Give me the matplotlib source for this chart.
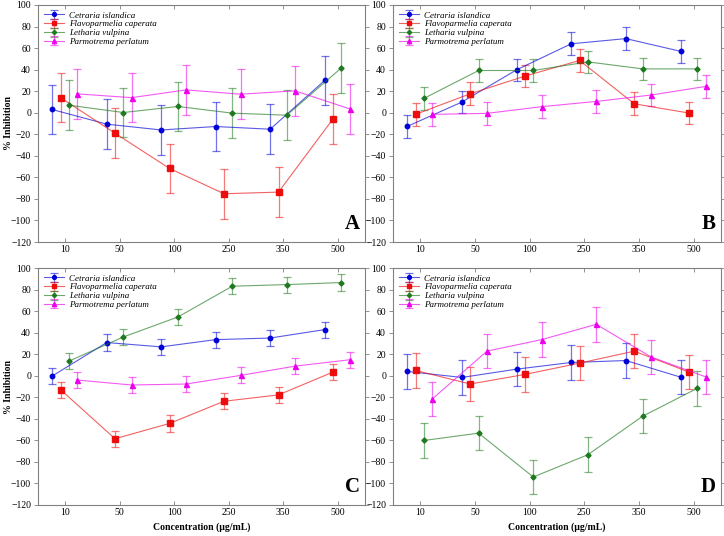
import matplotlib
matplotlib.use('Agg')
import matplotlib.pyplot as plt
import numpy as np

plt.rcParams['font.family'] = ['Liberation Serif', 'DejaVu Serif']

#data
conc = ['10', '50', '100', '250', '350', '500']
species = ['Cetraria islandica', 'Flavoparmelia caperata', 'Letharia vulpina', 'Parmotrema perlatum']

a_cetraria = [3, -10.6, -16, -12.8, -15.3, 30]
a_flavo = [14, -19, -51.7, -75.2, -73.7, -5.7]
a_letharia = [7, 0.2, 5.8, -0.4, -2.3, 41.6]
a_parmo = [17.5, 14, 21.2, 17.2, 20.3, 3.6]
a_err = [23, 23, 23, 23, 23, 23]

b_cetraria = [-12.7, 9.9, 39.8, 64, 68.8, 57]
b_flavo = [-1.5, 17.6, 34, 48.5, 8.3, -0.3]
b_letharia = [13.3, 39.2, 39.2, 47.2, 40.7, 40.7]
b_parmo = [-1.5, -0.6, 5.6, 10.5, 16.4, 24.4]
b_err = [10.5, 10.5, 10.5, 10.5, 10.5, 10.5]

c_cetraria = [-0.3, 30.8, 26.8, 33.5, 35, 42.8]
c_flavo = [-12.9, -58.5, -44.3, -23.7, -17.8, 3.4]
c_letharia = [13.5, 36, 54.5, 83.1, 84.6, 86.5]
c_parmo = [-4, -8.6, -7.7, 0.3, 8.9, 14.8]
c_err = [7.5, 7.5, 7.5, 7.5, 7.5, 7.5]

d_cetraria = [4, -1.6, 6.1, 12.3, 14.1, -1.3]
d_flavo = [4.9, -7.7, 1.2, 11.7, 22.8, 3.4]
d_letharia = [-60.1, -53.3, -94, -73.3, -37.6, -11.7]
d_parmo = [-21.6, 22.8, 33.5, 47.7, 17.5, -1]
d_err = [16, 16, 16, 16, 16, 16]

panels = [
    ('A', [a_cetraria, a_flavo, a_letharia, a_parmo], a_err),
    ('B', [b_cetraria, b_flavo, b_letharia, b_parmo], b_err),
    ('C', [c_cetraria, c_flavo, c_letharia, c_parmo], c_err),
    ('D', [d_cetraria, d_flavo, d_letharia, d_parmo], d_err),
]

#style
colors = [(0.0, 0.0, 0.85), (0.93, 0.05, 0.05), (0.12, 0.48, 0.12), (0.93, 0.0, 0.93)]
markers = ['o', 's', 'D', '^']
msizes = [3.2, 4.2, 2.6, 3.6]
offsets = [-0.24, -0.087, 0.066, 0.218]
spine_col = '#808080'

W, H = 724, 536
fig = plt.figure(figsize=(W / 100, H / 100), dpi=100)
boxes = [(38, 5, 365, 242), (393, 5, 721, 242), (38, 268, 365, 505), (393, 268, 721, 505)]

x = np.arange(len(conc))
for k, (letter, series, err) in enumerate(panels):
    l, t, r, b = boxes[k]
    ax = fig.add_axes([l / W, 1 - b / H, (r - l) / W, (b - t) / H])
    for i in range(4):
        c = colors[i]
        ax.errorbar(x + offsets[i], series[i], yerr=err,
                    color=c + (0.65,), lw=0.8,
                    marker=markers[i], ms=msizes[i], mfc=c, mec=c,
                    ecolor=c + (0.55,), elinewidth=0.9, capsize=3, capthick=0.9,
                    label=species[i])
    ax.set_xlim(-0.5, 5.5)
    ax.set_ylim(-120, 100)
    ax.set_xticks(x)
    ax.set_xticklabels(conc)
    ax.set_yticks(np.arange(-120, 101, 20))
    ax.tick_params(labelsize=7, length=3, width=0.6, color=spine_col, pad=2)
    ax.tick_params(axis='x', direction='in', top=True)
    ax.tick_params(axis='y', direction='out')
    ax.tick_params(axis='y', which='both', right=True)
    for s in ax.spines.values():
        s.set_color(spine_col)
        s.set_linewidth(0.8)
    ax.text(0.985, 0.035, letter, transform=ax.transAxes, ha='right', va='bottom',
            fontsize=15, fontweight='bold')
    leg = ax.legend(loc='upper left', frameon=False,
                    prop={'style': 'italic', 'size': 6.5},
                    handlelength=2.2, handletextpad=0.5, labelspacing=0.05,
                    borderaxespad=0.4, borderpad=0.3, markerscale=0.85)
    if k in (0, 2):
        ax.set_ylabel('% Inhibition', fontsize=7, fontweight='bold')
        ax.yaxis.set_label_coords(-0.077, 0.5)
    if k in (2, 3):
        ax.set_xlabel('Concentration (\u00b5g/mL)', fontsize=7, fontweight='bold', labelpad=4)

fig.savefig('out.png', dpi=100)
